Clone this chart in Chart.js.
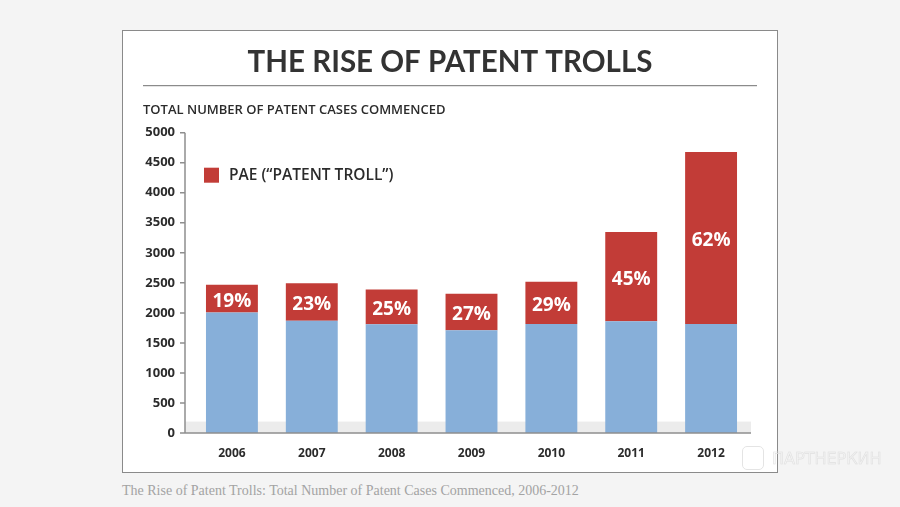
<!DOCTYPE html>
<html>
<head>
<meta charset="utf-8">
<script src="https://cdn.jsdelivr.net/npm/chart.js@4"></script>
<style>
html, body { margin: 0; padding: 0; }
body { width: 900px; height: 507px; background: #f4f4f4; position: relative; overflow: hidden; }
#box { position: absolute; left: 122px; top: 30px; width: 656px; height: 443px; box-sizing: border-box; border: 1px solid #8a8a8a; background: #fff; }
#wrap { position: absolute; left: 0; top: 0; width: 654px; height: 441px; }
#caption { position: absolute; left: 122px; top: 483px; font-family: "Liberation Serif", serif; font-size: 14px; color: #a3a3a3; white-space: nowrap; }
#mark { position: absolute; left: 772px; top: 449px; font-family: "DejaVu Sans", sans-serif; font-size: 16px; color: transparent; -webkit-text-stroke: 0.6px #e0e0e0; white-space: nowrap; }
#markIcon { position: absolute; left: 742px; top: 446px; width: 20px; height: 22px; border: 1.5px solid #e4e4e4; border-radius: 5px; }
</style>
</head>
<body>
<div id="box"><div id="wrap"><canvas id="view-canvas"></canvas></div></div>
<div id="caption">The Rise of Patent Trolls: Total Number of Patent Cases Commenced, 2006-2012</div>
<div id="markIcon"></div>
<div id="mark">ПАРТНЕРКИН</div>
<script>
var canvas = document.getElementById('view-canvas');

// data
var years = ['2006', '2007', '2008', '2009', '2010', '2011', '2012'];
var otherCases = [2005, 1870, 1810, 1710, 1815, 1860, 1815];
var paeCases = [465, 625, 580, 610, 705, 1485, 2865];
var paeShare = [19, 23, 25, 27, 29, 45, 62];
var yMax = 5000;
var yStep = 500;
var bandTop = 190;

var blue = '#87afd9';
var red = '#c23c37';
var ink = '#2b2b2b';
var sans = "'Open Sans', sans-serif";

// axis lines, grey floor band, % labels and the legend
var decor = {
    id: 'decor',
    beforeDatasetsDraw: function (chart) {
        var ctx = chart.ctx, a = chart.chartArea, y = chart.scales.y;
        ctx.save();
        ctx.fillStyle = '#ececec';
        ctx.fillRect(a.left - 7, y.getPixelForValue(bandTop), a.right - a.left + 7, y.getPixelForValue(0) - y.getPixelForValue(bandTop));
        ctx.restore();
    },
    afterDatasetsDraw: function (chart) {
        var ctx = chart.ctx, a = chart.chartArea, y = chart.scales.y;
        var ax = a.left - 7;
        ctx.save();
        ctx.strokeStyle = '#8e8e8e';
        ctx.lineWidth = 1.5;
        ctx.beginPath();
        ctx.moveTo(ax, y.getPixelForValue(yMax));
        ctx.lineTo(ax, a.bottom);
        ctx.lineTo(a.right, a.bottom);
        y.ticks.forEach(function (t) {
            var py = y.getPixelForValue(t.value);
            ctx.moveTo(ax - 5, py);
            ctx.lineTo(ax, py);
        });
        ctx.stroke();

        // percentage share inside the red segments
        ctx.fillStyle = '#fff';
        ctx.font = 'bold 19px ' + sans;
        ctx.textAlign = 'center';
        ctx.textBaseline = 'middle';
        chart.getDatasetMeta(1).data.forEach(function (bar, i) {
            ctx.fillText(paeShare[i] + '%', bar.x, (bar.y + bar.base) / 2 + 3);
        });

        // legend for the red series only
        var ds = chart.data.datasets[1];
        ctx.fillStyle = ds.backgroundColor;
        ctx.fillRect(a.left + 12, a.top + 35, 15, 15);
        ctx.fillStyle = ink;
        ctx.font = '600 15.5px ' + sans;
        ctx.textAlign = 'left';
        ctx.fillText(ds.label, a.left + 37, a.top + 43);
        ctx.restore();
    },
    afterDraw: function (chart) {
        var ctx = chart.ctx, t = chart.titleBlock;
        ctx.save();
        ctx.strokeStyle = '#707070';
        ctx.lineWidth = 1;
        ctx.beginPath();
        ctx.moveTo(t.left, t.bottom - 0.5);
        ctx.lineTo(t.right, t.bottom - 0.5);
        ctx.stroke();
        ctx.restore();
    }
};

var myChart = new Chart(canvas, {
    type: 'bar',
    data: {
        labels: years,
        datasets: [{
            label: 'Other',
            data: otherCases,
            backgroundColor: blue,
            barPercentage: 0.65,
            categoryPercentage: 1
        },
        {
            label: 'PAE (\u201CPATENT TROLL\u201D)',
            data: paeCases,
            backgroundColor: red,
            barPercentage: 0.65,
            categoryPercentage: 1
        }]
    },
    options: {
        responsive: true,
        maintainAspectRatio: false,
        animation: false,
        layout: { padding: { left: 20, right: 20, top: 0, bottom: 0 } },
        plugins: {
            legend: { display: false },
            tooltip: { enabled: false },
            title: {
                display: true,
                text: 'THE RISE OF PATENT TROLLS',
                color: '#333333',
                font: { family: "Lato, sans-serif", size: 29.5, weight: 'bold' },
                padding: { top: 14, bottom: 5.8 }
            },
            subtitle: {
                display: true,
                text: 'TOTAL NUMBER OF PATENT CASES COMMENCED',
                align: 'start',
                color: ink,
                font: { family: sans, size: 13, weight: '600' },
                padding: { top: 16, bottom: 14.9 }
            }
        },
        scales: {
            x: {
                stacked: true,
                grid: { display: false, drawTicks: false },
                border: { display: false },
                ticks: { color: ink, font: { family: sans, size: 12, weight: 'bold' }, padding: 13 },
                afterFit: function (s) { s.height = 39; }
            },
            y: {
                stacked: true,
                min: 0,
                max: yMax,
                grid: { display: false, drawTicks: false },
                border: { display: false },
                ticks: {
                    stepSize: yStep,
                    color: ink,
                    font: { family: sans, size: 13, weight: 'bold' },
                    padding: 17,
                    callback: function (v) { return String(v); }
                },
                afterFit: function (s) { s.width = 49; }
            },
            yRight: {
                position: 'right',
                grid: { display: false, drawTicks: false },
                border: { display: false },
                ticks: { display: false },
                afterFit: function (s) { s.width = 6; }
            }
        }
    },
    plugins: [decor]
});
</script>
</body>
</html>
